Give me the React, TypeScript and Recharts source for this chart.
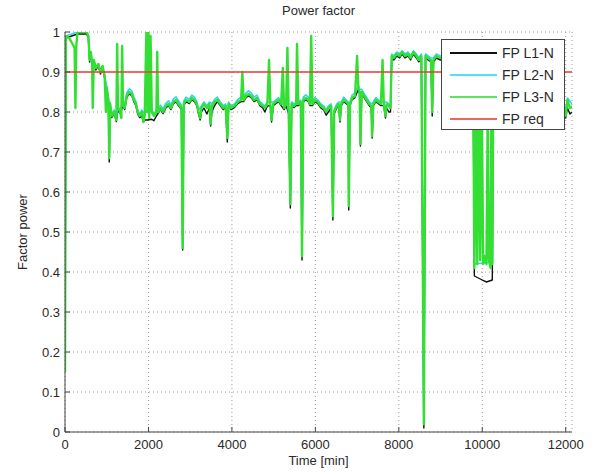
import { LineChart, Line, XAxis, YAxis, CartesianGrid } from "recharts";

const X_TICKS = [0, 2000, 4000, 6000, 8000, 10000, 12000];
const Y_TICKS = [0, 0.1, 0.2, 0.3, 0.4, 0.5, 0.6, 0.7, 0.8, 0.9, 1];
const X_MAX = 12150;

// [time min, power factor]
const FP_L3: [number, number][] = [
  [0, 0.15], [20, 0.99], [100, 0.985], [180, 0.97], [230, 0.96], [250, 0.81], [270, 0.965], [300, 1.0],
  [520, 1.0], [560, 0.99], [590, 0.93], [620, 0.95], [650, 0.92], [665, 0.81], [690, 0.93], [740, 0.91],
  [800, 0.92], [850, 0.9], [900, 0.915], [950, 0.89], [980, 0.8], [1000, 0.86], [1040, 0.83], [1060, 0.685],
  [1080, 0.82], [1120, 0.79], [1180, 0.8], [1230, 0.78], [1250, 0.97], [1270, 0.81], [1320, 0.8], [1350, 0.785],
  [1370, 0.965], [1390, 0.82], [1430, 0.81], [1480, 0.84], [1540, 0.85], [1600, 0.845], [1650, 0.83], [1700, 0.82],
  [1740, 0.8], [1790, 0.79], [1840, 0.8], [1880, 0.775], [1910, 0.79], [1950, 1.0], [1975, 0.8], [2000, 1.0],
  [2020, 0.785], [2050, 0.99], [2080, 0.8], [2130, 0.79], [2190, 0.8], [2210, 0.95], [2230, 0.8], [2290, 0.81],
  [2350, 0.8], [2420, 0.815], [2480, 0.82], [2540, 0.81], [2600, 0.825], [2660, 0.83], [2720, 0.82], [2790, 0.81],
  [2820, 0.46], [2845, 0.82], [2900, 0.83], [2980, 0.825], [3040, 0.835], [3100, 0.83], [3160, 0.82], [3200, 0.8],
  [3240, 0.785], [3270, 0.81], [3330, 0.82], [3400, 0.81], [3460, 0.82], [3490, 0.77], [3520, 0.815], [3580, 0.825],
  [3650, 0.83], [3720, 0.82], [3790, 0.81], [3850, 0.815], [3890, 0.735], [3920, 0.82], [3980, 0.81], [4060, 0.815],
  [4140, 0.825], [4220, 0.83], [4250, 0.9], [4280, 0.83], [4340, 0.84], [4400, 0.845], [4460, 0.84], [4530, 0.83],
  [4600, 0.835], [4670, 0.82], [4740, 0.815], [4790, 0.81], [4850, 0.82], [4890, 0.93], [4920, 0.82], [4950, 0.78],
  [4990, 0.82], [5050, 0.825], [5120, 0.83], [5180, 0.82], [5220, 0.91], [5250, 0.81], [5300, 0.82], [5330, 0.96],
  [5360, 0.8], [5400, 0.57], [5430, 0.82], [5490, 0.815], [5540, 0.82], [5560, 0.97], [5590, 0.82], [5650, 0.825],
  [5680, 0.44], [5710, 0.83], [5770, 0.835], [5830, 0.83], [5870, 0.82], [5900, 0.99], [5930, 0.82], [5990, 0.83],
  [6060, 0.825], [6130, 0.815], [6200, 0.81], [6260, 0.8], [6310, 0.81], [6380, 0.815], [6420, 0.54], [6450, 0.8],
  [6510, 0.815], [6560, 0.82], [6590, 0.78], [6620, 0.82], [6680, 0.83], [6740, 0.825], [6790, 0.82], [6800, 0.565],
  [6830, 0.82], [6880, 0.835], [6950, 0.84], [7000, 0.94], [7030, 0.86], [7060, 0.85], [7080, 0.72], [7110, 0.85],
  [7170, 0.84], [7230, 0.83], [7290, 0.82], [7340, 0.815], [7360, 0.74], [7390, 0.82], [7450, 0.83], [7510, 0.825],
  [7570, 0.82], [7610, 0.93], [7640, 0.82], [7680, 0.79], [7710, 0.82], [7760, 0.815], [7800, 0.81], [7830, 0.94],
  [7880, 0.935], [7950, 0.945], [8020, 0.94], [8080, 0.95], [8150, 0.94], [8220, 0.945], [8280, 0.935], [8350, 0.95],
  [8420, 0.94], [8480, 0.93], [8540, 0.94], [8600, 0.02], [8640, 0.94], [8700, 0.935], [8770, 0.93], [8800, 0.8],
  [8830, 0.93], [8900, 0.94], [9000, 0.935], [9200, 0.94], [9400, 0.93], [9600, 0.94], [9780, 0.93], [9810, 0.41],
  [9850, 0.8], [9880, 0.42], [9920, 0.86], [9950, 0.43], [9990, 0.82], [10020, 0.42], [10060, 0.44], [10100, 0.42],
  [10130, 0.8], [10160, 0.43], [10200, 0.41], [10220, 0.88], [10240, 0.42], [10265, 0.9], [10400, 0.88], [10800, 0.87],
  [11200, 0.86], [11600, 0.84], [11950, 0.82], [12000, 0.79], [12040, 0.83], [12100, 0.81], [12150, 0.815],
];

const FP_L2: [number, number][] = [
  [0, 0.15], [20, 0.99], [300, 1.0], [520, 1.0], [560, 0.99], [590, 0.93], [620, 0.95], [650, 0.92],
  [690, 0.93], [740, 0.91], [800, 0.92], [850, 0.9], [900, 0.915], [950, 0.89], [1000, 0.865], [1040, 0.835],
  [1060, 0.69], [1080, 0.825], [1120, 0.795], [1180, 0.805], [1230, 0.785], [1270, 0.815], [1320, 0.805], [1390, 0.825],
  [1430, 0.815], [1480, 0.848], [1540, 0.858], [1600, 0.853], [1650, 0.837], [1700, 0.826], [1740, 0.806], [1790, 0.795],
  [1840, 0.805], [1910, 0.795], [1975, 0.805], [2080, 0.805], [2130, 0.795], [2190, 0.805], [2290, 0.817], [2350, 0.807],
  [2420, 0.822], [2480, 0.828], [2540, 0.818], [2600, 0.833], [2660, 0.838], [2720, 0.828], [2790, 0.817], [2820, 0.465],
  [2845, 0.827], [2900, 0.837], [2980, 0.832], [3040, 0.842], [3100, 0.837], [3160, 0.826], [3200, 0.805], [3270, 0.815],
  [3330, 0.825], [3400, 0.815], [3460, 0.825], [3520, 0.82], [3580, 0.831], [3650, 0.837], [3720, 0.826], [3790, 0.816],
  [3850, 0.82], [3890, 0.745], [3920, 0.825], [3980, 0.815], [4060, 0.82], [4140, 0.831], [4220, 0.837], [4280, 0.837],
  [4340, 0.848], [4400, 0.853], [4460, 0.848], [4530, 0.837], [4600, 0.842], [4670, 0.826], [4740, 0.82], [4790, 0.815],
  [4850, 0.825], [4920, 0.825], [4990, 0.825], [5050, 0.83], [5120, 0.836], [5180, 0.825], [5250, 0.815], [5300, 0.825],
  [5360, 0.805], [5400, 0.58], [5430, 0.825], [5490, 0.82], [5540, 0.825], [5590, 0.825], [5650, 0.83], [5680, 0.445],
  [5710, 0.837], [5770, 0.843], [5830, 0.837], [5870, 0.825], [5930, 0.825], [5990, 0.836], [6060, 0.83], [6130, 0.82],
  [6200, 0.815], [6260, 0.805], [6310, 0.815], [6380, 0.82], [6420, 0.55], [6450, 0.805], [6510, 0.82], [6560, 0.825],
  [6620, 0.825], [6680, 0.837], [6740, 0.83], [6790, 0.825], [6800, 0.575], [6830, 0.825], [6880, 0.842], [6950, 0.848],
  [7030, 0.866], [7060, 0.857], [7110, 0.857], [7170, 0.846], [7230, 0.836], [7290, 0.826], [7340, 0.82], [7390, 0.825],
  [7450, 0.836], [7510, 0.83], [7570, 0.825], [7640, 0.825], [7710, 0.825], [7760, 0.82], [7800, 0.815], [7830, 0.945],
  [7880, 0.94], [7950, 0.95], [8020, 0.945], [8080, 0.953], [8150, 0.945], [8220, 0.95], [8280, 0.94], [8350, 0.953],
  [8420, 0.945], [8480, 0.935], [8540, 0.945], [8600, 0.03], [8640, 0.945], [8700, 0.94], [8770, 0.935], [8830, 0.935],
  [8900, 0.945], [9000, 0.94], [9780, 0.935], [9810, 0.42], [10240, 0.425], [10265, 0.9], [11950, 0.825], [12000, 0.795],
  [12040, 0.835], [12150, 0.82],
];

const FP_L1: [number, number][] = [
  [0, 0.15], [20, 0.985], [300, 0.995], [520, 0.995], [560, 0.985], [590, 0.925], [620, 0.945], [650, 0.915],
  [690, 0.925], [740, 0.905], [800, 0.915], [850, 0.895], [900, 0.91], [950, 0.885], [1000, 0.855], [1040, 0.825],
  [1060, 0.675], [1080, 0.815], [1120, 0.786], [1180, 0.796], [1230, 0.776], [1270, 0.806], [1320, 0.796], [1390, 0.815],
  [1430, 0.806], [1480, 0.836], [1540, 0.846], [1600, 0.841], [1650, 0.826], [1700, 0.816], [1740, 0.796], [1790, 0.786],
  [1840, 0.79], [1880, 0.775], [1910, 0.78], [1975, 0.78], [2080, 0.782], [2130, 0.778], [2190, 0.79], [2290, 0.806],
  [2350, 0.796], [2420, 0.811], [2480, 0.816], [2540, 0.806], [2600, 0.821], [2660, 0.826], [2720, 0.816], [2790, 0.806],
  [2820, 0.455], [2845, 0.816], [2900, 0.826], [2980, 0.821], [3040, 0.831], [3100, 0.826], [3160, 0.816], [3200, 0.795],
  [3240, 0.78], [3270, 0.8], [3330, 0.81], [3400, 0.795], [3460, 0.81], [3490, 0.765], [3520, 0.8], [3580, 0.815],
  [3650, 0.826], [3720, 0.816], [3790, 0.806], [3850, 0.811], [3890, 0.725], [3920, 0.816], [3980, 0.806], [4060, 0.811],
  [4140, 0.821], [4220, 0.826], [4280, 0.826], [4340, 0.836], [4400, 0.841], [4460, 0.836], [4530, 0.826], [4600, 0.831],
  [4670, 0.816], [4740, 0.81], [4790, 0.8], [4850, 0.815], [4920, 0.816], [4950, 0.775], [4990, 0.816], [5050, 0.821],
  [5120, 0.826], [5180, 0.816], [5250, 0.806], [5300, 0.816], [5360, 0.795], [5400, 0.56], [5430, 0.816], [5490, 0.811],
  [5540, 0.816], [5590, 0.816], [5650, 0.821], [5680, 0.43], [5710, 0.826], [5770, 0.831], [5830, 0.826], [5870, 0.816],
  [5930, 0.816], [5990, 0.826], [6060, 0.821], [6130, 0.81], [6200, 0.805], [6260, 0.792], [6310, 0.8], [6380, 0.81],
  [6420, 0.53], [6450, 0.795], [6510, 0.81], [6560, 0.816], [6590, 0.775], [6620, 0.816], [6680, 0.826], [6740, 0.821],
  [6790, 0.816], [6800, 0.555], [6830, 0.816], [6880, 0.831], [6950, 0.836], [7030, 0.856], [7060, 0.846], [7080, 0.715],
  [7110, 0.846], [7170, 0.836], [7230, 0.826], [7290, 0.816], [7340, 0.81], [7360, 0.735], [7390, 0.816], [7450, 0.826],
  [7510, 0.821], [7570, 0.816], [7640, 0.816], [7680, 0.785], [7710, 0.81], [7760, 0.8], [7800, 0.8], [7830, 0.935],
  [7880, 0.93], [7950, 0.94], [8020, 0.935], [8080, 0.945], [8150, 0.935], [8220, 0.94], [8280, 0.93], [8350, 0.945],
  [8420, 0.935], [8480, 0.925], [8540, 0.935], [8600, 0.01], [8640, 0.935], [8700, 0.93], [8770, 0.925], [8800, 0.79],
  [8830, 0.925], [8900, 0.935], [9000, 0.93], [9780, 0.925], [9810, 0.39], [10000, 0.38], [10100, 0.375], [10240, 0.38],
  [10265, 0.89], [11950, 0.815], [12000, 0.785], [12040, 0.81], [12100, 0.795], [12150, 0.8],
];

const FP_REQ: [number, number][] = [
  [0, 0.9], [X_MAX, 0.9],
];

const SERIES = [
  { name: "FP L1-N", color: "#111111", width: 1.4, points: FP_L1 },
  { name: "FP L2-N", color: "#2cd6ee", width: 1.6, points: FP_L2 },
  { name: "FP L3-N", color: "#33df33", width: 2.4, points: FP_L3 },
  { name: "FP req", color: "#ee3b3b", width: 1.3, points: FP_REQ },
];

const rows = (pts: [number, number][]) => pts.map(([t, v]) => ({ t, v }));

const AXIS = "#444";
const TXT = "#2a2a2a";
const FONT = "'Liberation Sans', Arial, sans-serif";
const TL = 5;

function BottomTick({ x, y, payload }: any) {
  return (
    <g>
      <line x1={x} y1={y} x2={x} y2={y - TL} stroke={AXIS} />
      <text x={x} y={y + 17} textAnchor="middle" fontSize={13} fill={TXT} fontFamily={FONT}>
        {payload.value}
      </text>
    </g>
  );
}

function TopTick({ x, y }: any) {
  return <line x1={x} y1={y} x2={x} y2={y + TL} stroke={AXIS} />;
}

function LeftTick({ x, y, payload }: any) {
  return (
    <g>
      <line x1={x} y1={y} x2={x + TL} y2={y} stroke={AXIS} />
      <text x={x - 5} y={y + 4.5} textAnchor="end" fontSize={13} fill={TXT} fontFamily={FONT}>
        {String(payload.value)}
      </text>
    </g>
  );
}

function RightTick({ x, y }: any) {
  return <line x1={x} y1={y} x2={x - TL} y2={y} stroke={AXIS} />;
}

export default function App() {
  return (
    <div style={{ position: "absolute", left: 0, top: 0, width: 596, height: 475, background: "#fff", fontFamily: FONT, color: TXT }}>
      <LineChart width={596} height={475} margin={{ top: 32, right: 24, bottom: 0, left: 0 }}>
        <CartesianGrid stroke="#9a9a9a" strokeDasharray="1 3" />
        <XAxis
          dataKey="t"
          type="number"
          domain={[0, X_MAX]}
          ticks={X_TICKS}
          interval={0}
          allowDataOverflow
          height={43}
          tickSize={0}
          tickMargin={0}
          tickLine={false}
          axisLine={{ stroke: AXIS }}
          tick={BottomTick}
        />
        <XAxis
          xAxisId="top"
          orientation="top"
          type="number"
          domain={[0, X_MAX]}
          ticks={X_TICKS}
          interval={0}
          height={0}
          tickSize={0}
          tickMargin={0}
          tickLine={false}
          axisLine={{ stroke: AXIS }}
          tick={TopTick}
        />
        <YAxis
          type="number"
          domain={[0, 1]}
          ticks={Y_TICKS}
          interval={0}
          allowDataOverflow
          width={65}
          tickSize={0}
          tickMargin={0}
          tickLine={false}
          axisLine={{ stroke: AXIS }}
          tick={LeftTick}
        />
        <YAxis
          yAxisId="right"
          orientation="right"
          type="number"
          domain={[0, 1]}
          ticks={Y_TICKS}
          interval={0}
          width={0}
          tickSize={0}
          tickMargin={0}
          tickLine={false}
          axisLine={{ stroke: AXIS }}
          tick={RightTick}
        />
        {SERIES.map((s) => (
          <Line
            key={s.name}
            data={rows(s.points)}
            dataKey="v"
            name={s.name}
            type="linear"
            stroke={s.color}
            strokeWidth={s.width}
            strokeLinejoin="round"
            dot={false}
            activeDot={false}
            isAnimationActive={false}
          />
        ))}
      </LineChart>

      <div style={{ position: "absolute", left: 0, width: 637, top: 3, textAlign: "center", fontSize: 13 }}>Power factor</div>
      <div style={{ position: "absolute", left: 0, width: 637, top: 453, textAlign: "center", fontSize: 13 }}>Time [min]</div>
      <div
        style={{
          position: "absolute",
          left: 22,
          top: 232,
          transform: "translate(-50%, -50%) rotate(-90deg)",
          whiteSpace: "nowrap",
          fontSize: 13,
        }}
      >
        Factor power
      </div>

      <div
        style={{
          position: "absolute",
          left: 441,
          top: 39,
          width: 124,
          height: 91,
          boxSizing: "border-box",
          border: `1px solid ${AXIS}`,
          background: "#fff",
        }}
      >
        {SERIES.map((s, i) => (
          <div key={s.name} style={{ position: "absolute", left: 0, top: 4 + i * 22, height: 18, width: 122 }}>
            <div style={{ position: "absolute", left: 8, top: 8, width: 47, height: 2, background: s.color, opacity: i === 0 ? 1 : 0.8 }} />
            <div style={{ position: "absolute", left: 60, top: 0, fontSize: 14, lineHeight: "18px", whiteSpace: "nowrap" }}>{s.name}</div>
          </div>
        ))}
      </div>
    </div>
  );
}
